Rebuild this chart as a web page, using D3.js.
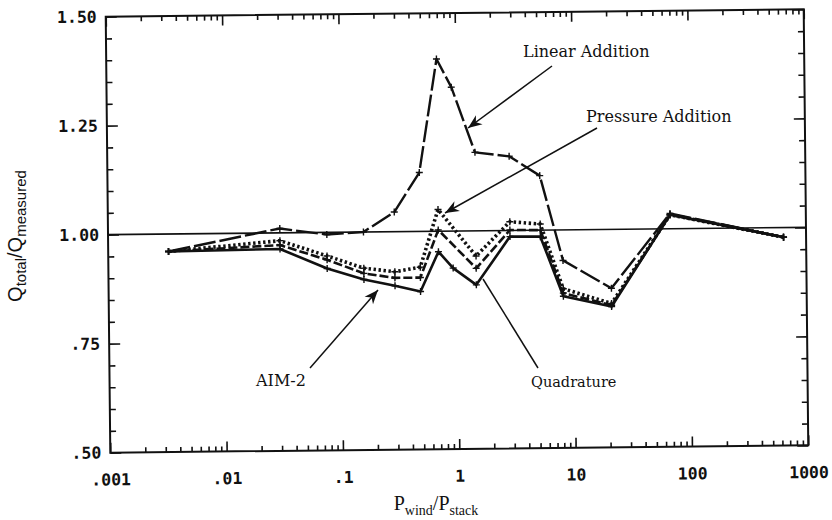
<!DOCTYPE html>
<html>
<head>
<meta charset="utf-8">
<script src="https://cdn.jsdelivr.net/npm/d3@7"></script>
<style>
  html, body { margin: 0; padding: 0; background: #fff; }
  svg { display: block; }
  .tick-label { font-family: "DejaVu Sans Mono", monospace; font-weight: bold; font-size: 16.5px; fill: #111; }
  .note { font-family: "DejaVu Serif", "Liberation Serif", serif; font-size: 16px; fill: #111; }
  .xtitle { font-family: "Liberation Serif", "Times New Roman", serif; font-size: 20px; fill: #111; }
  .ytitle { font-family: "Liberation Sans", Arial, sans-serif; font-size: 20px; fill: #111; }
</style>
</head>
<body>
<svg id="chart" width="832" height="520"></svg>
<script>
// Pressure ratio P_wind / P_stack for each test case
const pRatio = [0.0033, 0.03, 0.076, 0.157, 0.29, 0.48, 0.69, 0.92, 1.45, 2.85, 5.2, 8.1, 21, 68, 640];

// Q_total / Q_measured for each superposition method
const linearAddition   = [0.96, 1.01, 0.995, 1.00, 1.045, 1.135, 1.395, 1.33, 1.18, 1.17, 1.125, 0.93, 0.865, 1.035, 0.978];
const pressureAddition = [0.96, 0.982, 0.946, 0.917, 0.908, 0.918, 1.05, null, 0.942, 1.02, 1.014, 0.865, 0.83, 1.032, 0.978];
const quadrature       = [0.96, 0.972, 0.937, 0.905, 0.894, 0.894, 1.003, null, 0.914, 1.001, 1.0, 0.855, 0.826, 1.032, 0.978];
const aim2             = [0.96, 0.963, 0.917, 0.891, 0.876, 0.862, 0.953, 0.915, 0.876, 0.986, 0.985, 0.848, 0.823, 1.032, 0.978];

// Axis ticks and their printed labels
const xTickValues = [0.001, 0.01, 0.1, 1, 10, 100, 1000];
const xTickLabels = [".001", ".01", ".1", "1", "10", "100", "1000"];
const yTickValues = [0.5, 0.75, 1.0, 1.25, 1.5];
const yTickLabels = [".50", ".75", "1.00", "1.25", "1.50"];

const svg = d3.select("#chart");
const plotLeft = 108, plotRight = 806, plotTop = 13, plotBottom = 449;

const x = d3.scaleLog().domain([0.001, 1000]).range([plotLeft, plotRight]);
const y = d3.scaleLinear().domain([0.5, 1.5]).range([plotBottom, plotTop]);

// The plotted frame sits slightly askew on the page
const plot = svg.append("g").attr("transform", "rotate(-0.6, 457, 231)");

// minor log ticks: 2..9 within each decade
const xMinor = [];
for (let e = -3; e < 3; e++) for (let m = 2; m <= 9; m++) xMinor.push(m * Math.pow(10, e));
const yMinor = d3.range(0.5, 1.5001, 0.05).filter(v => Math.abs((v * 4) - Math.round(v * 4)) > 1e-6);

function styleAxis(g) {
  g.select(".domain").remove();
  g.selectAll(".tick line").attr("stroke", "#111").attr("stroke-width", 1.6);
}

// bottom axis
plot.append("g").attr("transform", `translate(0,${plotBottom})`)
  .call(d3.axisBottom(x).tickValues(xTickValues).tickSize(-10).tickPadding(21)
    .tickFormat((d, i) => xTickLabels[i]))
  .call(styleAxis)
  .call(g => g.selectAll("text").attr("class", "tick-label").attr("dy", "0.71em").attr("fill", null));
plot.append("g").attr("transform", `translate(0,${plotBottom})`)
  .call(d3.axisBottom(x).tickValues(xMinor).tickSize(-5).tickFormat(""))
  .call(styleAxis);

// top axis
plot.append("g").attr("transform", `translate(0,${plotTop})`)
  .call(d3.axisTop(x).tickValues(xTickValues).tickSize(-10).tickFormat(""))
  .call(styleAxis);
plot.append("g").attr("transform", `translate(0,${plotTop})`)
  .call(d3.axisTop(x).tickValues(xMinor).tickSize(-5).tickFormat(""))
  .call(styleAxis);

// left axis
plot.append("g").attr("transform", `translate(${plotLeft},0)`)
  .call(d3.axisLeft(y).tickValues(yTickValues).tickSize(-11).tickPadding(9)
    .tickFormat((d, i) => yTickLabels[i]))
  .call(styleAxis)
  .call(g => g.selectAll("text").attr("class", "tick-label").attr("fill", null));
plot.append("g").attr("transform", `translate(${plotLeft},0)`)
  .call(d3.axisLeft(y).tickValues(yMinor).tickSize(-6).tickFormat(""))
  .call(styleAxis);

// right axis
plot.append("g").attr("transform", `translate(${plotRight},0)`)
  .call(d3.axisRight(y).tickValues(yTickValues).tickSize(-11).tickFormat(""))
  .call(styleAxis);
plot.append("g").attr("transform", `translate(${plotRight},0)`)
  .call(d3.axisRight(y).tickValues(yMinor).tickSize(-6).tickFormat(""))
  .call(styleAxis);

// frame
plot.append("rect")
  .attr("x", plotLeft).attr("y", plotTop)
  .attr("width", plotRight - plotLeft).attr("height", plotBottom - plotTop)
  .attr("fill", "none").attr("stroke", "#111").attr("stroke-width", 2);

// reference line at Q_total / Q_measured = 1
plot.append("line")
  .attr("x1", plotLeft).attr("x2", plotRight).attr("y1", y(1)).attr("y2", y(1))
  .attr("stroke", "#111").attr("stroke-width", 1.6);

const line = d3.line().x(d => x(d.p)).y(d => y(d.q));

const series = [
  { values: pressureAddition, width: 3.6, dash: "2.4,2.6", cap: "butt" },
  { values: quadrature,       width: 2.6, dash: "9,3",     cap: "butt" },
  { values: aim2,             width: 2.6, dash: null,      cap: "round" },
  { values: linearAddition,   width: 2.4, dash: "22,4",    cap: "butt" }
];

series.forEach(s => {
  const pts = pRatio.map((p, i) => ({ p, q: s.values[i] })).filter(d => d.q != null);
  plot.append("path")
    .datum(pts)
    .attr("d", line)
    .attr("fill", "none")
    .attr("stroke", "#111")
    .attr("stroke-width", s.width)
    .attr("stroke-linejoin", "round")
    .attr("stroke-linecap", s.cap)
    .attr("stroke-dasharray", s.dash);
  plot.append("g").selectAll("path")
    .data(pts)
    .join("path")
    .attr("d", d => {
      const cx = x(d.p), cy = y(d.q), r = 3.5;
      return `M${cx - r},${cy}H${cx + r}M${cx},${cy - r}V${cy + r}`;
    })
    .attr("stroke", "#111")
    .attr("stroke-width", 1.4);
});

// axis titles
const xt = svg.append("text").attr("class", "xtitle")
  .attr("x", 436).attr("y", 510).attr("text-anchor", "middle");
xt.append("tspan").text("P");
xt.append("tspan").attr("font-size", "14px").attr("dy", 5).text("wind");
xt.append("tspan").attr("dy", -5).text("/P");
xt.append("tspan").attr("font-size", "14px").attr("dy", 5).text("stack");

const yt = svg.append("text").attr("class", "ytitle")
  .attr("transform", "translate(22,236) rotate(-90)").attr("text-anchor", "middle");
yt.append("tspan").text("Q");
yt.append("tspan").attr("font-size", "15px").attr("dy", 4).text("total");
yt.append("tspan").attr("dy", -4).text("/Q");
yt.append("tspan").attr("font-size", "15px").attr("dy", 4).text("measured");

// callouts
svg.append("defs").append("marker")
  .attr("id", "head").attr("viewBox", "0 0 10 10").attr("refX", 10).attr("refY", 5)
  .attr("markerWidth", 14).attr("markerHeight", 14).attr("markerUnits", "userSpaceOnUse")
  .attr("orient", "auto")
  .append("path").attr("d", "M0,1 L10,5 L0,9 L3,5 Z").attr("fill", "#111");

const notes = [
  { text: "Linear Addition",   tx: 523, ty: 57,  size: 16,   from: [552, 66],  to: [468, 128], head: true },
  { text: "Pressure Addition", tx: 586, ty: 122, size: 16,   from: [597, 128], to: [445, 213], head: true },
  { text: "AIM-2",             tx: 256, ty: 386, size: 16,   from: [310, 368], to: [378, 290], head: true },
  { text: "Quadrature",        tx: 531, ty: 387, size: 14.5, from: [538, 368], to: [483, 279], head: false }
];
notes.forEach(n => {
  svg.append("text").attr("class", "note").attr("x", n.tx).attr("y", n.ty)
    .style("font-size", n.size + "px").text(n.text);
  svg.append("line")
    .attr("x1", n.from[0]).attr("y1", n.from[1]).attr("x2", n.to[0]).attr("y2", n.to[1])
    .attr("stroke", "#111").attr("stroke-width", 1.5)
    .attr("marker-end", n.head ? "url(#head)" : null);
});
</script>
</body>
</html>
